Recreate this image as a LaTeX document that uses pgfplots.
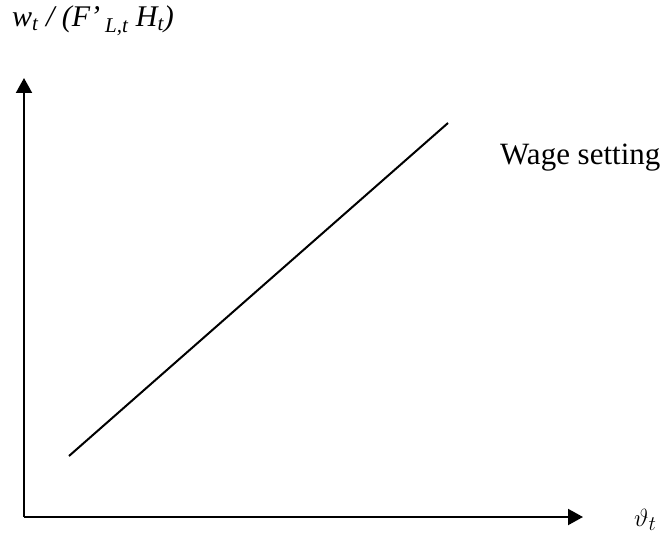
\documentclass[border=0pt]{standalone}
\usepackage{pgfplots}
\pgfplotsset{compat=1.18}
\usetikzlibrary{arrows.meta}
\usepackage{fontspec}
\setmainfont{Liberation Serif}
\begin{document}
\begin{tikzpicture}
\begin{axis}[
  scale only axis,
  width=559pt, height=439pt,
  xmin=24, xmax=583,
  ymin=21, ymax=460,
  axis lines=left,
  ticks=none,
  axis line style={line width=2pt, -{Triangle[width=16pt,length=15pt]}},
  clip=false,
]
% wage-setting schedule
\addplot[black, line width=2pt] coordinates {(69,82) (448,415)};
% frame of the figure
\path (axis cs:0,0) rectangle (axis cs:668,538);
\node[anchor=base west, inner sep=0pt, font=\fontsize{31}{36}\selectfont] at (axis cs:500,373) {Wage setting};
\node[anchor=base west, inner sep=0pt, font=\fontsize{30}{36}\selectfont\itshape] at (axis cs:12,511)
  {w\textsubscript{t} / (F’\,\textsubscript{L,t} H\textsubscript{t})};
\node[anchor=base west, inner sep=0pt, font=\fontsize{31}{36}\selectfont] at (axis cs:634,12) {$\vartheta_t$};
\end{axis}
\end{tikzpicture}
\end{document}
